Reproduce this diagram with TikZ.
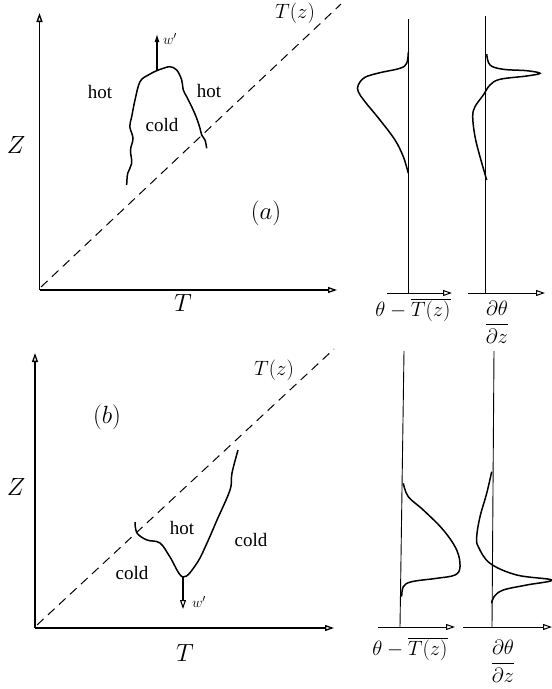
\documentclass[tikz,border=0pt]{standalone}
\usepackage{fontspec}
\setmainfont{Liberation Serif}
\usetikzlibrary{arrows.meta}
\tikzset{
  axis/.style={line width=1.3pt,-{Triangle[open,length=9pt,width=6pt]}},
  paxis/.style={line width=1pt,-{Triangle[open,length=9pt,width=6pt]}},
  vline/.style={line width=0.9pt},
  curve/.style={line width=1.5pt,smooth,tension=0.6},
  dline/.style={line width=1pt,dash pattern=on 9pt off 6pt},
  lbl/.style={font=\fontsize{19}{22}\selectfont,inner sep=0pt},
  tzl/.style={font=\fontsize{21}{24}\selectfont,inner sep=0pt},
  big/.style={font=\fontsize{27}{30}\selectfont,inner sep=0pt},
  wup/.style={line width=1.1pt,-{Latex[length=8pt,width=5pt]}},
  wdown/.style={line width=1.1pt,-{Triangle[open,length=9pt,width=6pt]}},
  xlab/.style={font=\fontsize{22}{26}\selectfont,inner sep=0pt},
  wl/.style={font=\fontsize{15}{16}\selectfont,inner sep=0pt},
}
\begin{document}
\begin{tikzpicture}[x=1pt,y=-1pt]
\useasboundingbox (0,0) rectangle (552,689);
% ---------------- panel (a) ----------------
\coordinate (oa) at (39.5,290);
\coordinate (za) at (39.5,13);
\coordinate (ta) at (337,290);
\draw[axis] (oa) -- (za);
\draw[axis] (oa) -- (ta);
\coordinate (da1) at (41,287);
\coordinate (da2) at (341,4);
\draw[dline] (da1) -- (da2);
\node[tzl] (tza) at (295,13) {$T(z)$};
\node[big] (Za) at (16,145) {$Z$};
\node[big] (Ta) at (183,303) {$T$};
\node[big] (la) at (266,213) {$(a)$};
\node[lbl] (h1) at (100,92) {hot};
\node[lbl] (h2) at (209,91) {hot};
\node[lbl] (c1) at (162,125) {cold};
\draw[curve] plot coordinates {(126.7,185) (127.7,173.3) (131.7,163.3) (130.5,150) (133,138.3) (129.8,126.7) (131.7,116.7) (135,100) (140,81.7) (148.3,75) (156.7,70.7) (163.3,68.3) (170,66.7) (176.7,70) (181.7,80) (183.3,90) (186.7,96.7) (191.7,106.7) (196.7,118.3) (200,128.3) (201.7,135) (205,140) (206.7,148.3)};
\coordinate (wa0) at (157,71);
\coordinate (wa1) at (157,34);
\draw[wup] (wa0) -- (wa1);
\node[wl] (wla) at (170,39) {$w'$};
% profiles (a)
\coordinate (pa1b) at (408,293);
\coordinate (pa1t) at (408,19);
\draw[vline] (pa1b) -- (pa1t);
\coordinate (pa1l) at (387,293);
\coordinate (pa1r) at (452,293);
\draw[paxis] (pa1l) -- (pa1r);
\draw[curve] plot coordinates {(408.3,52) (406.7,63.3) (400,68.3) (380,72.7) (365,77.3) (358.3,85) (358.3,91.7) (365,101.7) (380,120) (395,140) (403.3,156.7) (408.3,173.3)};
\coordinate (pa2b) at (485,293);
\coordinate (pa2t) at (485,16);
\draw[vline] (pa2b) -- (pa2t);
\coordinate (pa2l) at (468,293);
\coordinate (pa2r) at (545,293);
\draw[paxis] (pa2l) -- (pa2r);
\draw[curve] plot coordinates {(486.7,54) (490,65) (503.3,69.3) (526.7,70.7) (540,73.3) (526.7,76) (500,79.3) (490,85) (483.3,95) (475,106.7) (472.7,116.7) (475,136.7) (480,156.7) (486.7,180)};
\node[xlab] (xa1) at (413,310) {$\theta - \overline{T(z)}$};
\node[xlab] (xa2) at (497,322) {$\displaystyle\frac{\partial\theta}{\partial z}$};
% ---------------- panel (b) ----------------
\coordinate (ob) at (35,628);
\coordinate (zb) at (35,353);
\coordinate (tb) at (334,628);
\draw[axis] (ob) -- (zb);
\draw[axis] (ob) -- (tb);
\coordinate (db1) at (37,625);
\coordinate (db2) at (334,349);
\draw[dline] (db1) -- (db2);
\node[tzl] (tzb) at (274,370) {$T(z)$};
\node[big] (Zb) at (16,487) {$Z$};
\node[big] (Tb) at (185,653) {$T$};
\node[big] (lb) at (107,417) {$(b)$};
\node[lbl] (h3) at (182,528) {hot};
\node[lbl] (c2) at (251,540) {cold};
\node[lbl] (c3) at (132,573) {cold};
\draw[curve] plot coordinates {(135,522) (137,533) (147,540) (160,543) (170,557) (183,577) (197,563) (207,543) (217,520) (230,490) (232,473) (238,450)};
\coordinate (wb0) at (183,577);
\coordinate (wb1) at (183,609);
\draw[wdown] (wb0) -- (wb1);
\node[wl] (wlb) at (199,602) {$w'$};
% profiles (b)
\coordinate (pb1b) at (400,627);
\coordinate (pb1t) at (404,351);
\draw[vline] (pb1b) -- (pb1t);
\coordinate (pb1l) at (378,627);
\coordinate (pb1r) at (455,627);
\draw[paxis] (pb1l) -- (pb1r);
\draw[curve] plot coordinates {(403.3,483.3) (408.3,496.7) (423.3,510) (443.3,530) (456.7,550) (460,566.7) (455,575) (436.7,578.3) (411.7,581.7) (403.3,586.7) (401.7,596.7)};
\coordinate (pb2b) at (492,627);
\coordinate (pb2t) at (494,351);
\draw[vline] (pb2b) -- (pb2t);
\coordinate (pb2l) at (463,627);
\coordinate (pb2r) at (552,627);
\draw[paxis] (pb2l) -- (pb2r);
\draw[curve] plot coordinates {(491.7,471.7) (486.7,493.3) (480,516.7) (476.7,536.7) (478.3,546.7) (490,563.3) (516.7,575) (551.7,580) (526.7,585) (503.3,590) (494,596.7) (491.7,603.3)};
\node[xlab] (xb1) at (410,649) {$\theta - \overline{T(z)}$};
\node[xlab] (xb2) at (503,661) {$\displaystyle\frac{\partial\theta}{\partial z}$};
\end{tikzpicture}
\end{document}
